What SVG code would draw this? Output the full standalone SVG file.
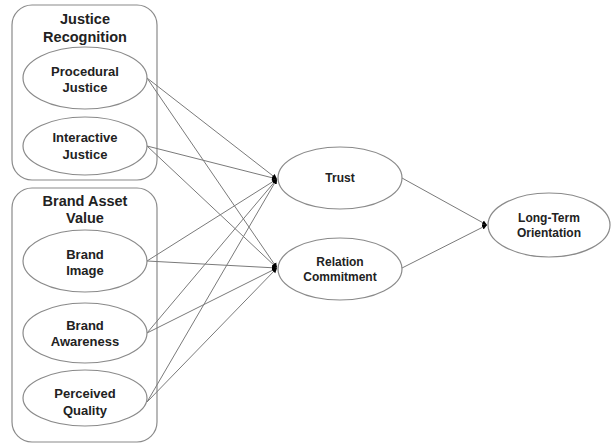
<svg xmlns="http://www.w3.org/2000/svg" width="611" height="444" viewBox="0 0 611 444">
<style>
.grp{fill:#fff;stroke:#8a8a8a;stroke-width:1.2}
.node{fill:#fff;stroke:#8a8a8a;stroke-width:1.2}
.t{font-family:"Liberation Sans",Arial,sans-serif;font-weight:bold;font-size:13px;fill:#222;text-anchor:middle}
.s{font-size:12px}
.h{font-family:"Liberation Sans",Arial,sans-serif;font-weight:bold;font-size:14.5px;fill:#222;text-anchor:middle}
.c{stroke:#7a7a7a;stroke-width:1;fill:none;marker-end:url(#a)}
</style>
<defs>
<marker id="a" markerWidth="6" markerHeight="6" refX="5" refY="3" orient="auto" markerUnits="userSpaceOnUse">
<path d="M0,0.5 L5,3 L0,5.5 Z" fill="#000"/>
</marker>
</defs>
<g id="justice-recognition">
<rect class="grp" x="12" y="5" width="145" height="175" rx="20"/>
<text class="h" x="85" y="24">Justice</text>
<text class="h" x="85" y="42">Recognition</text>
</g>
<g id="brand-asset-value">
<rect class="grp" x="12" y="188" width="145" height="254" rx="20"/>
<text class="h" x="85" y="206">Brand Asset</text>
<text class="h" x="85" y="223">Value</text>
</g>
<g id="connectors">
<line class="c" x1="147" y1="78" x2="277" y2="179"/>
<line class="c" x1="147" y1="78" x2="277" y2="268"/>
<line class="c" x1="147" y1="146" x2="277" y2="179"/>
<line class="c" x1="147" y1="146" x2="277" y2="268"/>
<line class="c" x1="147" y1="261" x2="277" y2="179"/>
<line class="c" x1="147" y1="261" x2="277" y2="268"/>
<line class="c" x1="147" y1="333" x2="277" y2="179"/>
<line class="c" x1="147" y1="333" x2="277" y2="268"/>
<line class="c" x1="147" y1="402" x2="277" y2="179"/>
<line class="c" x1="147" y1="402" x2="277" y2="268"/>
<line class="c" x1="402" y1="178" x2="487" y2="225"/>
<line class="c" x1="402" y1="268" x2="487" y2="225"/>
</g>
<g id="procedural-justice">
<ellipse class="node" cx="85" cy="78" rx="62" ry="31"/>
<text class="t" x="85" y="75.5">Procedural</text>
<text class="t" x="85" y="92">Justice</text>
</g>
<g id="interactive-justice">
<ellipse class="node" cx="85" cy="146" rx="62" ry="29"/>
<text class="t" x="85" y="142">Interactive</text>
<text class="t" x="85" y="158.5">Justice</text>
</g>
<g id="brand-image">
<ellipse class="node" cx="85" cy="261" rx="62" ry="31"/>
<text class="t" x="85" y="258.5">Brand</text>
<text class="t" x="85" y="274.5">Image</text>
</g>
<g id="brand-awareness">
<ellipse class="node" cx="85" cy="333" rx="62" ry="30"/>
<text class="t" x="85" y="329.5">Brand</text>
<text class="t" x="85" y="345.5">Awareness</text>
</g>
<g id="perceived-quality">
<ellipse class="node" cx="85" cy="398" rx="62" ry="28"/>
<text class="t" x="85" y="397.5">Perceived</text>
<text class="t" x="85" y="414.5">Quality</text>
</g>
<g id="trust">
<ellipse class="node" cx="340" cy="178" rx="62" ry="31"/>
<text class="t s" x="340" y="182">Trust</text>
</g>
<g id="relation-commitment">
<ellipse class="node" cx="340" cy="269" rx="62" ry="31"/>
<text class="t s" x="340" y="266">Relation</text>
<text class="t s" x="340" y="281">Commitment</text>
</g>
<g id="long-term-orientation">
<ellipse class="node" cx="549" cy="225" rx="61" ry="32"/>
<text class="t s" x="549" y="222">Long-Term</text>
<text class="t s" x="549" y="237">Orientation</text>
</g>
</svg>
